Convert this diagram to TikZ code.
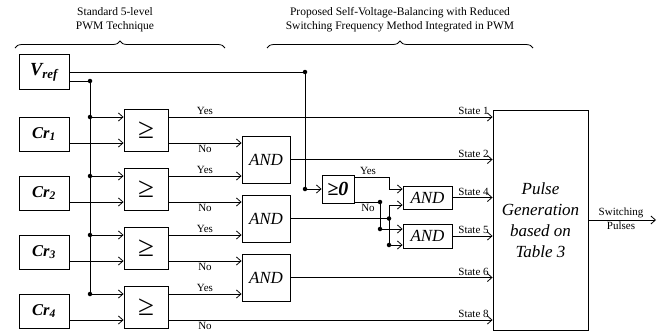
\documentclass[tikz,border=0pt]{standalone}
\usepackage{fontspec}
\setmainfont{Liberation Serif}
\usetikzlibrary{arrows.meta,decorations.pathreplacing}
\begin{document}
\begin{tikzpicture}[x=1pt,y=-1pt,line width=0.8pt,
  blk/.style={draw,line width=0.9pt,inner sep=0pt},
  lab/.style={font=\fontsize{11}{12}\selectfont,inner sep=1.5pt},
  head/.style={font=\fontsize{11.5}{14}\selectfont,align=center,inner sep=0pt},
  arr/.style={-{Straight Barb[length=4.5pt,width=8pt]}},
  jdot/.style={circle,fill,inner sep=0pt,minimum size=4.5pt},
  andtxt/.style={font=\itshape\fontsize{17}{17}\selectfont},
  crtxt/.style={font=\bfseries\itshape\fontsize{16.5}{16.5}\selectfont},
  brc/.style={decorate,decoration={brace,amplitude=7pt}}]
\useasboundingbox (0,0) rectangle (664,332);

% headings
\node[head] (h1) at (115,20) {Standard 5-level\\PWM Technique};
\node[head] (h2) at (400,20) {Proposed Self-Voltage-Balancing with Reduced\\Switching Frequency Method Integrated in PWM};
\draw[brc] (15,48) -- (225,48);
\draw[brc] (267,48) -- (533,48);

% blocks
\node[blk,minimum width=50pt,minimum height=35pt,font=\bfseries\itshape\fontsize{18.5}{18.5}\selectfont] (vref) at (44,72) {V\textsubscript{ref}};
\foreach \i/\y in {1/134,2/193,3/252,4/311}
  \node[blk,minimum width=50pt,minimum height=34pt,crtxt] (cr\i) at (44,\y) {Cr\textsubscript{\i}};
\foreach \i/\y in {1/130,2/189,3/248,4/307}
  \node[blk,minimum width=44pt,minimum height=42pt,font=\fontsize{29}{29}\selectfont] (cmp\i) at (146,\y) {≥};
\foreach \i/\y in {1/159.5,2/218.5,3/277.5}
  \node[blk,minimum width=48pt,minimum height=47pt,andtxt] (and\i) at (266,\y) {AND};
\node[blk,minimum width=32pt,minimum height=28pt,font=\bfseries\fontsize{20}{20}\selectfont] (gz) at (338,189) {≥\itshape 0};
\node[blk,minimum width=49pt,minimum height=23pt,andtxt] (and4) at (427.5,197.5) {AND};
\node[blk,minimum width=49pt,minimum height=24pt,andtxt] (and5) at (427.5,236) {AND};
\node[blk,minimum width=95pt,minimum height=220pt,align=center,font=\itshape\fontsize{17}{21}\selectfont] (pg) at (540.5,220) {Pulse\\Generation\\based on\\Table 3};

% bus from Vref
\coordinate (b0) at (90,81);
\coordinate (b1) at (90,117);
\coordinate (b2) at (90,176);
\coordinate (b3) at (90,235);
\coordinate (b4) at (90,294);
\draw (vref.east |- b0) -- (b0) -- (b4);
\foreach \i in {1,...,4} \draw[arr] (b\i) -- (cmp\i.west |- b\i);
\foreach \i/\cy in {1/143,2/202,3/261,4/320}
  \draw[arr] (cr\i.east |- 0,\cy) -- (cmp\i.west |- 0,\cy);

% comparator outputs
\draw[arr] (cmp1.east |- b1) -- (pg.west |- b1) node[lab,pos=1,anchor=south east,xshift=-2pt] {State 1};
\draw[arr] (cmp1.east |- 0,143) -- (and1.west |- 0,143);
\draw[arr] (cmp2.east |- b2) -- (and1.west |- b2);
\draw[arr] (cmp2.east |- 0,202) -- (and2.west |- 0,202);
\draw[arr] (cmp3.east |- b3) -- (and2.west |- b3);
\draw[arr] (cmp3.east |- 0,261) -- (and3.west |- 0,261);
\draw[arr] (cmp4.east |- b4) -- (and3.west |- b4);
\draw[arr] (cmp4.east |- 0,320) -- (pg.west |- 0,320) node[lab,pos=1,anchor=south east,xshift=-2pt] {State 8};

\foreach \y in {117,176,235,294} \node[lab,anchor=south] at (205,\y) {Yes};
\foreach \y in {143,202,261,320} \node[lab,anchor=north] at (205,\y) {No};

% AND outputs
\draw[arr] (and1.east) -- (pg.west |- and1.east) node[lab,pos=1,anchor=south east,xshift=-2pt] {State 2};
\draw[arr] (and3.east) -- (pg.west |- and3.east) node[lab,pos=1,anchor=south east,xshift=-2pt] {State 6};

% Vref to >=0
\coordinate (v1) at (305,72);
\coordinate (v2) at (305,189);
\draw (vref.east |- v1) -- (v1) -- (v2);
\draw[arr] (v2) -- (gz.west);

% >=0 outputs
\draw[arr] (gz.east |- 0,177) -- (389,177) -- (389,189) -- (and4.west |- 0,189);
\node[lab,anchor=south] at (368,177) {Yes};
\coordinate (n1) at (380,202);
\coordinate (n2) at (380,229);
\draw (gz.east |- n1) -- (n1);
\draw[arr] (n1) -- (n2) -- (and5.west |- n2);
\node[lab,anchor=north] at (368,202) {No};

% AND2 output
\coordinate (j2) at (389,218.5);
\coordinate (j3) at (389,245);
\draw (and2.east) -- (j2);
\draw[arr] (j2) -- (389,205) -- (and4.west |- 0,205);
\draw[arr] (j2) -- (j3) -- (and5.west |- j3);

\draw[arr] (and4.east) -- (pg.west |- and4.east) node[lab,pos=1,anchor=south east,xshift=-2pt] {State 4};
\draw[arr] (and5.east) -- (pg.west |- and5.east) node[lab,pos=1,anchor=south east,xshift=-2pt] {State 5};

% output
\coordinate (out) at (656,220);
\draw[arr] (pg.east) -- (out);
\node[lab,anchor=south] at (621,220) {Switching};
\node[lab,anchor=north] at (621,220) {Pulses};

% dots
\foreach \c in {b0,b1,b2,b3,b4,v1,v2,n1,n2,j2,j3} \node[jdot] at (\c) {};
\end{tikzpicture}
\end{document}
